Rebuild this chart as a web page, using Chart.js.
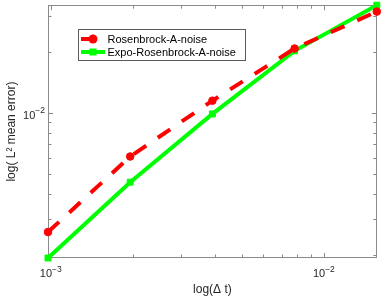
<!DOCTYPE html>
<html>
<head>
<meta charset="utf-8">
<script src="https://cdn.jsdelivr.net/npm/chart.js@4/dist/chart.umd.min.js"></script>
<style>
   html, body { margin: 0; padding: 0; background: #fff; }
   #wrap { width: 382px; height: 299px; }
</style>
</head>
<body>
<div id="wrap"><canvas id="errChart" width="382" height="299"></canvas></div>
<script>
// time steps and errors
const dtValues = [1 / 1024, 1 / 512, 1 / 256, 1 / 128, 1 / 64]
const rosenbrockErr = [0.0026, 0.00611, 0.01149, 0.02073, 0.03148]
const expoRosenbrockErr = [0.001938, 0.00457, 0.00989, 0.0202, 0.03384]
const seriesNames = ["Rosenbrock-A-noise", "Expo-Rosenbrock-A-noise"]

// major ticks: value, base and exponent of the label
const xMajorTicks = [0.001, 0.01]
const xTickBase = ["10", "10"]
const xTickExp = ["−3", "−2"]
const yMajorTicks = [0.01]
const yTickBase = ["10"]
const yTickExp = ["−2"]
const xTitle = "log(Δ t)"
const yTitle = "log( L² mean error)"

const RED = "#ff0000"
const GREEN = "#00ff00"
const AXIS_GRAY = "#8a8a8a"
const TEXT_COLOR = "#262626"
const FONT = '"Liberation Sans", Arial, sans-serif'

Chart.defaults.font.family = FONT
Chart.defaults.color = TEXT_COLOR

// 1..9 x 10^e ticks inside [min, max]
const logTickValues = (min, max) => {
   const vals = []
   for (let e = Math.floor(Math.log10(min)); e <= Math.ceil(Math.log10(max)); e++) {
      for (let m = 1; m <= 9; m++) {
         const v = m * Math.pow(10, e)
         if (v >= min * 1.0001 && v <= max * 0.9999) vals.push(v)
      }
   }
   return vals
}

const isMajor = (v, majors) => majors.findIndex(t => Math.abs(v - t) / t < 1e-6)

const toPoints = ys => dtValues.map((x, i) => ({ x: x, y: ys[i] }))

// MATLAB-like box with inward ticks on all four sides
const boxTicks = {
   id: "boxTicks",
   beforeDatasetsDraw(chart) {
      const { ctx, chartArea: a } = chart
      const xs = chart.scales.x
      const ys = chart.scales.y
      ctx.save()
      ctx.strokeStyle = AXIS_GRAY
      ctx.lineWidth = 1
      ctx.strokeRect(Math.round(a.left) + 0.5, Math.round(a.top) + 0.5,
         Math.round(a.right - a.left) - 1, Math.round(a.bottom - a.top) - 1)
      ctx.beginPath()
      xs.ticks.forEach(t => {
         const len = isMajor(t.value, xMajorTicks) >= 0 ? 5 : 3.5
         const px = Math.round(xs.getPixelForValue(t.value)) + 0.5
         ctx.moveTo(px, a.bottom)
         ctx.lineTo(px, a.bottom - len)
         ctx.moveTo(px, a.top)
         ctx.lineTo(px, a.top + len)
      })
      ys.ticks.forEach(t => {
         const len = isMajor(t.value, yMajorTicks) >= 0 ? 5 : 3.5
         const py = Math.round(ys.getPixelForValue(t.value)) + 0.5
         ctx.moveTo(a.left, py)
         ctx.lineTo(a.left + len, py)
         ctx.moveTo(a.right, py)
         ctx.lineTo(a.right - len, py)
      })
      ctx.stroke()
      ctx.restore()
   },
   // power-of-ten labels with a raised exponent
   afterDraw(chart) {
      const { ctx, chartArea: a } = chart
      const xs = chart.scales.x
      const ys = chart.scales.y
      const baseFont = "11px " + FONT
      const expFont = "8.5px " + FONT
      ctx.save()
      ctx.fillStyle = TEXT_COLOR
      ctx.textBaseline = "alphabetic"
      ctx.textAlign = "left"
      xMajorTicks.forEach((v, i) => {
         ctx.font = baseFont
         const wb = ctx.measureText(xTickBase[i]).width
         ctx.font = expFont
         const we = ctx.measureText(xTickExp[i]).width
         const left = xs.getPixelForValue(v) - (wb + we) / 2
         ctx.font = baseFont
         ctx.fillText(xTickBase[i], left, a.bottom + 19)
         ctx.font = expFont
         ctx.fillText(xTickExp[i], left + wb, a.bottom + 13.5)
      })
      yMajorTicks.forEach((v, i) => {
         const py = ys.getPixelForValue(v)
         ctx.font = expFont
         const we = ctx.measureText(yTickExp[i]).width
         ctx.font = baseFont
         const wb = ctx.measureText(yTickBase[i]).width
         const right = a.left - 3
         ctx.fillText(yTickBase[i], right - we - wb, py + 6)
         ctx.font = expFont
         ctx.fillText(yTickExp[i], right - we, py + 0.5)
      })
      ctx.restore()
   },
}

// legend box drawn inside the axes, upper left
const insideLegend = {
   id: "insideLegend",
   afterDraw(chart) {
      const { ctx } = chart
      const x0 = 78.5, y0 = 29.5, w = 167, h = 31
      ctx.save()
      ctx.fillStyle = "#fff"
      ctx.fillRect(x0, y0, w, h)
      ctx.strokeStyle = "#5a5a5a"
      ctx.lineWidth = 1
      ctx.strokeRect(x0, y0, w, h)
      chart.data.datasets.forEach((ds, i) => {
         const cy = 39 + i * 13
         ctx.strokeStyle = ds.borderColor
         ctx.lineWidth = ds.borderWidth
         ctx.setLineDash(ds.borderDash || [])
         ctx.beginPath()
         ctx.moveTo(81, cy)
         ctx.lineTo(105, cy)
         ctx.stroke()
         ctx.setLineDash([])
         ctx.fillStyle = ds.pointBackgroundColor
         if (ds.pointStyle === "rect") {
            ctx.fillRect(93 - 3.5, cy - 3.5, 7, 7)
         } else {
            ctx.beginPath()
            ctx.arc(93, cy, 4.5, 0, Math.PI * 2)
            ctx.fill()
         }
         ctx.fillStyle = "#000"
         ctx.font = "11px " + FONT
         ctx.textBaseline = "middle"
         ctx.fillText(ds.label, 107.5, cy + 0.5)
      })
      ctx.restore()
   },
}

const ctxErr = document.getElementById("errChart").getContext("2d")
const errChart = new Chart(ctxErr, {
   type: "line",
   data: {
      datasets: [
         {
            label: seriesNames[0],
            data: toPoints(rosenbrockErr),
            borderColor: RED,
            borderWidth: 4,
            borderDash: [15, 14],
            pointStyle: "circle",
            pointRadius: 3.8,
            pointBackgroundColor: RED,
            pointBorderColor: RED,
            pointBorderWidth: 1,
            clip: false,
         },
         {
            label: seriesNames[1],
            data: toPoints(expoRosenbrockErr),
            borderColor: GREEN,
            borderWidth: 4,
            pointStyle: "rect",
            pointRadius: 4.2,
            pointBackgroundColor: GREEN,
            pointBorderColor: GREEN,
            pointBorderWidth: 1,
            clip: false,
         },
      ],
   },
   options: {
      responsive: false,
      animation: false,
      devicePixelRatio: 1,
      layout: { padding: { top: 4, right: 5, left: 0, bottom: 0 } },
      plugins: {
         legend: { display: false },
         tooltip: { enabled: false },
      },
      scales: {
         x: {
            type: "logarithmic",
            min: Math.min(...dtValues),
            max: Math.max(...dtValues),
            afterBuildTicks: scale => {
               scale.ticks = logTickValues(scale.min, scale.max).map(v => ({ value: v }))
            },
            afterFit: scale => {
               scale.height = 41
            },
            ticks: { display: false },
            grid: { display: false },
            border: { display: false },
            title: {
               display: true,
               text: xTitle,
               font: { size: 12 },
               color: TEXT_COLOR,
               padding: { top: 0, bottom: 2 },
            },
         },
         y: {
            type: "logarithmic",
            min: Math.min(...expoRosenbrockErr),
            max: Math.max(...expoRosenbrockErr),
            afterBuildTicks: scale => {
               scale.ticks = logTickValues(scale.min, scale.max).map(v => ({ value: v }))
            },
            afterFit: scale => {
               scale.width = 48
            },
            ticks: { display: false },
            grid: { display: false },
            border: { display: false },
            title: {
               display: true,
               text: yTitle,
               font: { size: 12 },
               color: TEXT_COLOR,
               padding: { top: 4, bottom: 0 },
            },
         },
      },
   },
   plugins: [boxTicks, insideLegend],
})
</script>
</body>
</html>
